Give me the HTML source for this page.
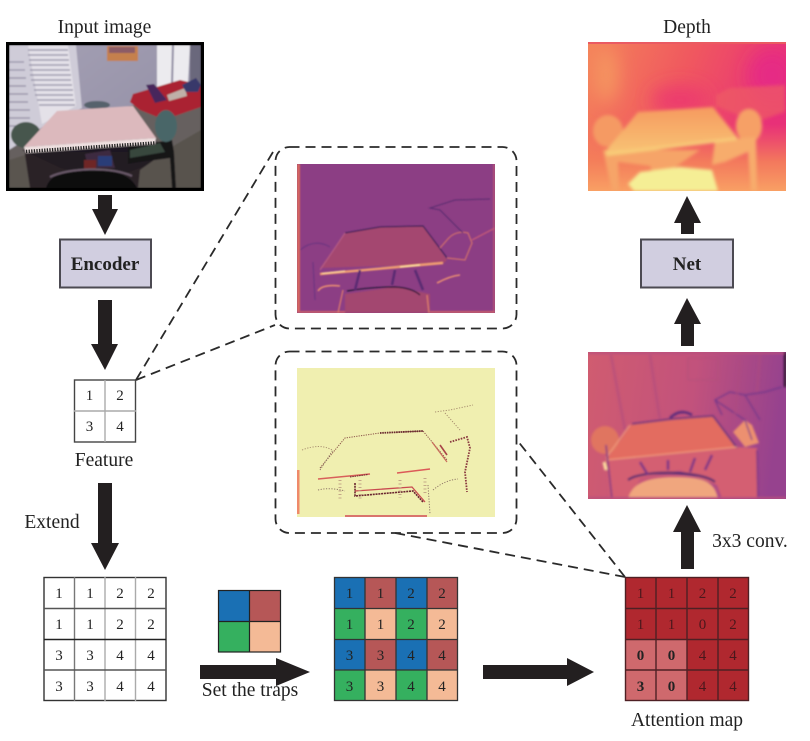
<!DOCTYPE html>
<html><head><meta charset="utf-8"><style>
html,body{margin:0;padding:0;background:#fff}
svg{display:block}
text{font-family:"Liberation Serif",serif;fill:#222}
.l{font-size:19.5px;text-anchor:middle}
.d text,.d{font-size:15px;text-anchor:middle}
</style></head><body>
<svg width="810" height="741" viewBox="0 0 810 741" xmlns="http://www.w3.org/2000/svg">
<defs>
<filter id="b1" x="-10%" y="-10%" width="120%" height="120%"><feGaussianBlur stdDeviation="0.7"/></filter>
<filter id="b15" x="-10%" y="-10%" width="120%" height="120%"><feGaussianBlur stdDeviation="1.1"/></filter>
<filter id="b2" x="-10%" y="-10%" width="120%" height="120%"><feGaussianBlur stdDeviation="1.6"/></filter>
<filter id="b5" x="-40%" y="-40%" width="180%" height="180%"><feGaussianBlur stdDeviation="9"/></filter>
<clipPath id="c0"><rect x="9" y="45" width="192" height="143"/></clipPath>
<clipPath id="c1"><rect x="588" y="42" width="198" height="149"/></clipPath>
<clipPath id="c2"><rect x="297" y="164" width="198" height="149"/></clipPath>
<clipPath id="c3"><rect x="297" y="368" width="198" height="149"/></clipPath>
<clipPath id="c4"><rect x="588" y="352" width="198" height="147"/></clipPath>
<linearGradient id="dg" x1="0" y1="0" x2="1" y2="0.3"><stop offset="0" stop-color="#f4845a"/><stop offset="0.5" stop-color="#f0585f"/><stop offset="1" stop-color="#e83078"/></linearGradient>
<linearGradient id="dg2" x1="0" y1="0" x2="0" y2="1"><stop offset="0.55" stop-color="#f4785a" stop-opacity="0"/><stop offset="0.8" stop-color="#f4805a" stop-opacity=".9"/><stop offset="1" stop-color="#f9a064"/></linearGradient>
<linearGradient id="dt" x1="0" y1="0" x2="0" y2="1"><stop offset="0" stop-color="#f69a60"/><stop offset="1" stop-color="#f8c274"/></linearGradient>
<linearGradient id="ag" x1="0" y1="0" x2="1" y2="0.1"><stop offset="0" stop-color="#d05c70"/><stop offset="0.55" stop-color="#c2527c"/><stop offset="1" stop-color="#96428e"/></linearGradient>
<linearGradient id="wall" x1="0" y1="0" x2="1" y2="1"><stop offset="0" stop-color="#a5a0b4"/><stop offset="1" stop-color="#8e8ba2"/></linearGradient>
</defs>

<!-- labels -->
<text class="l" x="104.500" y="33">Input image</text>
<text class="l" x="687" y="33">Depth</text>
<text class="l" x="104" y="466">Feature</text>
<text class="l" x="52" y="528">Extend</text>
<text class="l" x="250" y="696">Set the traps</text>
<text class="l" x="687" y="726">Attention map</text>
<text class="l" x="750" y="547">3x3 conv.</text>

<!-- input image -->
<rect x="6" y="42" width="198" height="149" fill="#000"/>
<g clip-path="url(#c0)"><g filter="url(#b1)">
<rect x="9" y="45" width="192" height="143" fill="url(#wall)"/>
<polygon points="9,45 76,45 82,108 45,125 9,150" fill="#cfccd8"/>
<polygon points="28,45 68,45 76,106 42,124" fill="#e4e1e8"/>
<g stroke="#8f8ba2" stroke-width="1.400" opacity=".8">
<line x1="28" y1="50" x2="68" y2="50"/><line x1="28" y1="55" x2="68" y2="55"/><line x1="29" y1="60" x2="69" y2="60"/><line x1="29" y1="65" x2="69" y2="65"/><line x1="30" y1="70" x2="70" y2="70"/><line x1="30" y1="75" x2="71" y2="75"/><line x1="31" y1="80" x2="71" y2="80"/><line x1="33" y1="85" x2="72" y2="85"/><line x1="34" y1="90" x2="73" y2="90"/><line x1="35" y1="95" x2="73" y2="95"/><line x1="37" y1="100" x2="74" y2="100"/><line x1="39" y1="105" x2="75" y2="105"/><line x1="9" y1="62" x2="24" y2="62"/><line x1="9" y1="70" x2="25" y2="70"/><line x1="9" y1="78" x2="26" y2="78"/><line x1="9" y1="86" x2="26" y2="86"/><line x1="9" y1="94" x2="28" y2="94"/><line x1="9" y1="102" x2="28" y2="102"/><line x1="9" y1="110" x2="30" y2="110"/><line x1="9" y1="118" x2="30" y2="118"/><line x1="9" y1="126" x2="28" y2="126"/>
</g>
<polygon points="157,45 190,45 188,82 157,88" fill="#ecebef"/>
<line x1="173" y1="45" x2="172" y2="85" stroke="#8f8ba2" stroke-width="2"/>
<rect x="190" y="45" width="11" height="40" fill="#6a687c"/>
<rect x="107" y="46" width="31" height="15" fill="#c5804e"/>
<rect x="109" y="47" width="26" height="6" fill="#8c5b66"/>
<polygon points="9,188 9,150 60,120 135,105 201,106 201,188" fill="#66615e"/>
<polygon points="130,102 133,94 160,86 180,80 201,85 201,107 172,117 160,118 140,110" fill="#aa2230"/>
<polygon points="146,85 154,84 167,100 155,103" fill="#46285c"/>
<polygon points="167,95 185,88 187,96 169,101" fill="#bfb0a8"/>
<polygon points="182,85 196,78 201,85 198,92 186,92" fill="#38386a"/>
<ellipse cx="97" cy="105" rx="13" ry="4" fill="#56626c"/>
<polygon points="22,150 60,168 110,180 160,160 156,138" fill="#1a1620"/>
<rect x="25" y="152" width="140" height="36" fill="#231e22" opacity=".9"/>
<polygon points="9,160 25,155 30,188 9,188" fill="#5a5450"/>
<polygon points="140,170 175,145 201,130 201,188 138,188" fill="#58524e"/>
<polygon points="128,146 172,140 174,152 176,188 172,188 170,158 140,162 128,164" fill="#151218"/>
<ellipse cx="26" cy="135" rx="15" ry="13" fill="#47564e"/>
<ellipse cx="166" cy="126" rx="11" ry="16" fill="#4a6668"/>
<polygon points="130,150 160,143 165,152 130,158" fill="#38463c"/>
<polygon points="57,111 133,106 156,138 24,147" fill="#dcb9bd"/>
<polygon points="24,147 156,138 155,144 26,153" fill="#eee0e0"/>
<polygon points="85,154 110,150 115,168 88,168" fill="#3e2a40"/>
<rect x="84" y="160" width="12" height="10" fill="#6e2828"/>
<rect x="98" y="156" width="14" height="10" fill="#2c3e78"/>
<path d="M46,188 C50,174 65,170 90,170 C115,170 130,174 137,188Z" fill="#100c10"/>
<path d="M50,177 C68,168 110,166 132,176" stroke="#6a5a6a" stroke-width="2" fill="none"/>
</g>
<line x1="26" y1="151.500" x2="155" y2="143" stroke="#222" stroke-width="3.500" stroke-dasharray="1.300 1.300"/>
</g>

<!-- arrows -->
<g fill="#231f20">
<polygon points="98,195 112,195 112,209 118,209 105,235 92,209 98,209"/>
<polygon points="98,300 112,300 112,344 118,344 105,370 91,344 98,344"/>
<polygon points="98,483 112,483 112,543 119,543 105,570 91,543 98,543"/>
<polygon points="200,665 276,665 276,658 310,672 276,686 276,679 200,679"/>
<polygon points="483,665 567,665 567,658 594,672 567,686 567,679 483,679"/>
<polygon points="681,234 694,234 694,223 701,223 687,196 674,223 681,223"/>
<polygon points="681,346 694,346 694,324 701,324 687,298 674,324 681,324"/>
<polygon points="681,569 694,569 694,532 701,532 687,505 673,532 681,532"/>
</g>

<!-- boxes -->
<rect x="60" y="239.500" width="91" height="48" fill="#d1cee0" stroke="#4c4a52" stroke-width="2"/>
<text x="105" y="270" text-anchor="middle" font-size="19px" font-weight="bold">Encoder</text>
<rect x="641" y="239.500" width="92" height="48" fill="#d1cee0" stroke="#4c4a52" stroke-width="2"/>
<text x="687" y="270" text-anchor="middle" font-size="19px" font-weight="bold">Net</text>

<!-- feature -->
<rect x="74.500" y="380" width="61" height="62" fill="#fff" stroke="#444" stroke-width="1.400"/>
<line x1="105" y1="380" x2="105" y2="442" stroke="#aaa" stroke-width="1.400"/>
<line x1="74" y1="411" x2="136" y2="411" stroke="#aaa" stroke-width="1.400"/>
<g class="d"><text x="89.500" y="400">1</text><text x="120" y="400">2</text><text x="89.500" y="431">3</text><text x="120" y="431">4</text></g>

<!-- dashed connectors -->
<g fill="none" stroke="#2a2a2a" stroke-width="1.800" stroke-dasharray="10 6">
<line x1="136" y1="380" x2="276" y2="147"/>
<line x1="136" y1="380" x2="275" y2="325"/>
<line x1="625" y1="577" x2="517" y2="440"/>
<line x1="625" y1="577" x2="395" y2="533"/>
<rect x="275.500" y="147" width="241" height="181.500" rx="14"/>
<rect x="275.500" y="351.500" width="241" height="181.500" rx="14"/>
</g>

<!-- feature heat map 1 -->
<rect x="297" y="164" width="198" height="149" fill="#8c3e84"/>
<g clip-path="url(#c2)"><g filter="url(#b1)" fill="none">
<rect x="297" y="164" width="3" height="149" fill="#d8685e"/>
<rect x="493" y="164" width="2" height="149" fill="#b04f78"/>
<rect x="297" y="311" width="198" height="2" fill="#c95f6c"/>
<polygon points="320,268 345,233 380,227 423,226 447,260 443,264" fill="#a4476f"/>
<polygon points="345,294 345,313 430,313 430,294 395,287" fill="#a34670"/>
<path d="M320,274 L443,263" stroke="#ef9c72" stroke-width="2.500"/>
<path d="M400,267 L420,265" stroke="#fde0a0" stroke-width="1.500"/>
<path d="M322,273.500 L345,271" stroke="#fbd09a" stroke-width="1.500"/>
<path d="M345,233 L380,227 L423,226 L447,258" stroke="#43205a" stroke-width="1.200"/>
<path d="M320,270 L345,233" stroke="#b45a84" stroke-width="1.200"/>
<path d="M347,291 Q370,287 395,287 Q412,288 420,295" stroke="#241236" stroke-width="1.200"/>
<path d="M318,291 Q322,284 340,286 M437,283 Q450,276 460,275" stroke="#e88c72" stroke-width="1.600"/>
<path d="M447,258 L465,260 L472,243 L468,233 Q455,230 447,240 L440,248" stroke="#d2706c" stroke-width="1.200"/>
<path d="M463,233 L440,210 L430,208 L455,200 L490,199" stroke="#5a2c70" stroke-width="1"/>
<path d="M472,240 L495,228" stroke="#c25878" stroke-width="1.500"/>
<path d="M300,250 Q315,238 330,247 M313,262 L315,300" stroke="#6e3480" stroke-width="1.200"/>
<path d="M343,290 L338,313 M427,295 L429,313" stroke="#dc7a6c" stroke-width="1.300"/>
<path d="M360,270 L355,290 M395,270 L392,285 M415,270 L423,290" stroke="#5a2c72" stroke-width="2.500"/>
</g></g>

<!-- feature heat map 2 -->
<rect x="297" y="368" width="198" height="149" fill="#f0efb0"/>
<g clip-path="url(#c3)">
<rect x="297" y="470" width="2.500" height="44" fill="#ef8a6a"/>
<rect x="345" y="515" width="82" height="2" fill="#d9746c"/>
<g fill="none">
<path d="M320,468 L345,438 L380,433 L423,431 L447,460" stroke="#8a5248" stroke-width="1" stroke-dasharray="1.200 1.200"/>
<path d="M380,433 L423,431" stroke="#6a2a30" stroke-width="1.800" stroke-dasharray="1.500 .8"/>
<path d="M318,479 L370,474" stroke="#d8605a" stroke-width="1.500"/>
<path d="M350,477 L368,474.500" stroke="#6a2530" stroke-width="1" stroke-dasharray="1.500 .8"/>
<path d="M397,473 L430,469" stroke="#dc5a58" stroke-width="1.500"/>
<path d="M355,483 L355,496 L413,491 L423,502" stroke="#6a2530" stroke-width="1.600" stroke-dasharray="2 .8"/>
<path d="M355,491 L412,487 L425,502" stroke="#c94a50" stroke-width="1.300"/>
<path d="M450,442 L467,437 L470,448 L465,472 L467,492" stroke="#8a3a40" stroke-width="1.800" stroke-dasharray="1.600 1.200"/>
<path d="M440,445 L447,455" stroke="#a84448" stroke-width="1.600"/>
<path d="M432,442 L447,462" stroke="#c86a5a" stroke-width="1.200"/>
<path d="M318,490 Q330,487 345,491 M320,470 L333,450 M433,490 Q445,480 458,479 M428,485 L430,514" stroke="#907868" stroke-width="1" stroke-dasharray="1.200 1.500"/>
<path d="M302,450 Q320,443 332,450 M435,412 L450,410 L473,405 M445,413 L460,430" stroke="#a99070" stroke-width="1" stroke-dasharray="1.200 1.500"/>
<path d="M340,480 V500 M360,480 V500 M400,480 V498 M425,478 V495" stroke="#c4a888" stroke-width="3" stroke-dasharray="1 2.500"/>
</g></g>

<!-- depth -->
<rect x="588" y="42" width="198" height="149" fill="url(#dg)"/>
<g clip-path="url(#c1)">
<g filter="url(#b5)"><ellipse cx="680" cy="100" rx="28" ry="14" fill="#ec3a6e"/><ellipse cx="772" cy="75" rx="24" ry="26" fill="#e62a84"/><ellipse cx="606" cy="75" rx="12" ry="28" fill="#f59460"/></g>
<rect x="588" y="42" width="198" height="149" fill="url(#dg2)"/>
<rect x="588" y="42" width="198" height="2" fill="#ea5a62"/>
<g filter="url(#b2)">
<polygon points="716,95 730,88 785,85 785,112 755,122 716,106" fill="#ee5c64" opacity=".7"/>
<ellipse cx="608" cy="131" rx="15" ry="16" fill="#f59a64"/>
<ellipse cx="749" cy="126" rx="13" ry="17" fill="#f6a066"/>
<polygon points="603,150 612,191 619,191 618,162 650,166 655,178 668,172 700,150" fill="#f6a468"/>
<polygon points="715,140 756,137 757,191 751,191 748,152 725,162 712,165" fill="#f7ac6c"/>
<polygon points="638,112 713,107 737,137 605,152" fill="url(#dt)"/>
<polygon points="605,152 737,137 737,140 607,156" fill="#f8cc78"/>
<polygon points="628,184 640,172 680,167 712,170 718,191 634,191" fill="#f5ee95"/>
</g></g>

<!-- attention heat map -->
<rect x="588" y="352" width="198" height="147" fill="url(#ag)"/>
<g clip-path="url(#c4)"><g filter="url(#b15)" fill="none">
<rect x="588" y="352" width="198" height="2" fill="#b8507e"/>
<rect x="784" y="352" width="2" height="35" fill="#1a1020"/>
<polygon points="632,424 713,416 737,448 606,460" fill="#e36c60"/>
<polygon points="745,420 752,425 759,443 745,447 733,432" fill="#ec9070"/>
<ellipse cx="605" cy="440" rx="14" ry="14" fill="#e07460"/>
<polygon points="606,460 737,447 757,448 757,499 722,499 717,485 680,470 640,478 630,499 610,499" fill="#d45f72"/>
<path d="M628,499 C632,482 650,477 675,477 C700,477 715,480 718,499Z" fill="#f0a67e"/>
<path d="M632,424 L672,419 L713,416 L737,448" stroke="#5a2c7c" stroke-width="1.500"/>
<path d="M630,425 L606,458 M606,460 L737,447" stroke="#f09a7c" stroke-width="1.300"/>
<path d="M628,480 C640,470 700,470 715,482" stroke="#4c2a70" stroke-width="2.200"/>
<path d="M722,415 L715,400 L730,392 L745,395 L765,392 L782,387 M745,395 L760,420 M715,400 L745,420 L752,440" stroke="#70358a" stroke-width="1.200"/>
<path d="M670,418 Q680,408 692,415" stroke="#5a2c7c" stroke-width="2.500"/>
<path d="M606,445 L612,499 M757,450 L758,499" stroke="#7a3684" stroke-width="1.500"/>
<path d="M640,462 L648,475 M668,460 L668,470 M695,458 L690,472 M712,455 L705,470" stroke="#7a3684" stroke-width="2.500"/>
<path d="M604,462 L606,470" stroke="#fde0a0" stroke-width="3"/>
<path d="M611,355 L625,430 M650,355 L660,420 M740,360 L735,415 M760,355 L757,392" stroke="#ae4a80" stroke-width="3" opacity=".5"/>
<rect x="688" y="358" width="30" height="22" stroke="#b4507a" stroke-width="1"/>
<rect x="588" y="497" width="198" height="2" fill="#b8507e"/>
</g></g>

<!-- extended grid -->
<rect x="44" y="577.500" width="122" height="123" fill="#fff" stroke="#333" stroke-width="1.400"/>
<g stroke-width="1.400">
<line x1="74.500" y1="577" x2="74.500" y2="701" stroke="#777"/>
<line x1="105" y1="577" x2="105" y2="701" stroke="#aaa"/>
<line x1="135.500" y1="577" x2="135.500" y2="701" stroke="#aaa"/>
<line x1="44" y1="608.500" x2="166" y2="608.500" stroke="#555"/>
<line x1="44" y1="639.500" x2="166" y2="639.500" stroke="#222"/>
<line x1="44" y1="670" x2="166" y2="670" stroke="#555"/>
</g>
<g class="d">
<text x="59" y="598">1</text><text x="90" y="598">1</text><text x="120" y="598">2</text><text x="151" y="598">2</text>
<text x="59" y="629">1</text><text x="90" y="629">1</text><text x="120" y="629">2</text><text x="151" y="629">2</text>
<text x="59" y="660">3</text><text x="90" y="660">3</text><text x="120" y="660">4</text><text x="151" y="660">4</text>
<text x="59" y="691">3</text><text x="90" y="691">3</text><text x="120" y="691">4</text><text x="151" y="691">4</text>
</g>

<!-- legend -->
<rect x="218.500" y="590.500" width="31" height="31" fill="#1a70b4"/>
<rect x="249.500" y="590.500" width="31" height="31" fill="#b65757"/>
<rect x="218.500" y="621.500" width="31" height="30.500" fill="#35b05f"/>
<rect x="249.500" y="621.500" width="31" height="30.500" fill="#f4ba96"/>
<g fill="none" stroke="#222" stroke-width="1.200">
<rect x="218.500" y="590.500" width="62" height="61.500"/>
<line x1="249.500" y1="590" x2="249.500" y2="652"/>
<line x1="218" y1="621.500" x2="281" y2="621.500"/>
</g>

<!-- trap grid -->
<g>
<rect x="334" y="577" width="31" height="31" fill="#1a70b4"/><rect x="365" y="577" width="31" height="31" fill="#b65757"/><rect x="396" y="577" width="31" height="31" fill="#1a70b4"/><rect x="427" y="577" width="31" height="31" fill="#b65757"/>
<rect x="334" y="608" width="31" height="31" fill="#35b05f"/><rect x="365" y="608" width="31" height="31" fill="#f4ba96"/><rect x="396" y="608" width="31" height="31" fill="#35b05f"/><rect x="427" y="608" width="31" height="31" fill="#f4ba96"/>
<rect x="334" y="639" width="31" height="31" fill="#1a70b4"/><rect x="365" y="639" width="31" height="31" fill="#b65757"/><rect x="396" y="639" width="31" height="31" fill="#1a70b4"/><rect x="427" y="639" width="31" height="31" fill="#b65757"/>
<rect x="334" y="670" width="31" height="31" fill="#35b05f"/><rect x="365" y="670" width="31" height="31" fill="#f4ba96"/><rect x="396" y="670" width="31" height="31" fill="#35b05f"/><rect x="427" y="670" width="31" height="31" fill="#f4ba96"/>
</g>
<g fill="none" stroke="#333" stroke-width="1.300">
<rect x="334.500" y="577.500" width="123" height="123"/>
<line x1="365" y1="577" x2="365" y2="701"/><line x1="396" y1="577" x2="396" y2="701"/><line x1="427" y1="577" x2="427" y2="701"/>
<line x1="334" y1="608.500" x2="458" y2="608.500"/><line x1="334" y1="639.500" x2="458" y2="639.500"/><line x1="334" y1="670" x2="458" y2="670"/>
</g>
<g class="d">
<text x="349.500" y="598">1</text><text x="380.500" y="598">1</text><text x="411" y="598">2</text><text x="442" y="598">2</text>
<text x="349.500" y="629">1</text><text x="380.500" y="629">1</text><text x="411" y="629">2</text><text x="442" y="629">2</text>
<text x="349.500" y="660">3</text><text x="380.500" y="660">3</text><text x="411" y="660">4</text><text x="442" y="660">4</text>
<text x="349.500" y="691">3</text><text x="380.500" y="691">3</text><text x="411" y="691">4</text><text x="442" y="691">4</text>
</g>

<!-- attention grid -->
<rect x="625" y="577" width="124" height="124" fill="#b0282f"/>
<rect x="625" y="639" width="62" height="62" fill="#cf696d"/>
<g fill="none" stroke="#4e2024" stroke-width="1.400">
<rect x="625.500" y="577.500" width="123" height="123"/>
<line x1="656" y1="577" x2="656" y2="701"/><line x1="687" y1="577" x2="687" y2="701"/><line x1="718" y1="577" x2="718" y2="701"/>
<line x1="625" y1="608.500" x2="749" y2="608.500"/><line x1="625" y1="639.500" x2="749" y2="639.500"/><line x1="625" y1="670" x2="749" y2="670"/>
</g>
<g class="d">
<text x="640.500" y="598" style="fill:#4a181c">1</text><text x="671.500" y="598" style="fill:#4a181c">1</text><text x="702.500" y="598" style="fill:#4a181c">2</text><text x="733" y="598" style="fill:#4a181c">2</text>
<text x="640.500" y="629" style="fill:#4a181c">1</text><text x="671.500" y="629" style="fill:#4a181c">1</text><text x="702.500" y="629" style="fill:#4a181c">0</text><text x="733" y="629" style="fill:#4a181c">2</text>
<text x="640.500" y="660" font-weight="bold">0</text><text x="671.500" y="660" font-weight="bold">0</text><text x="702.500" y="660" style="fill:#4a181c">4</text><text x="733" y="660" style="fill:#4a181c">4</text>
<text x="640.500" y="691" font-weight="bold">3</text><text x="671.500" y="691" font-weight="bold">0</text><text x="702.500" y="691" style="fill:#4a181c">4</text><text x="733" y="691" style="fill:#4a181c">4</text>
</g>
</svg>
</body></html>
